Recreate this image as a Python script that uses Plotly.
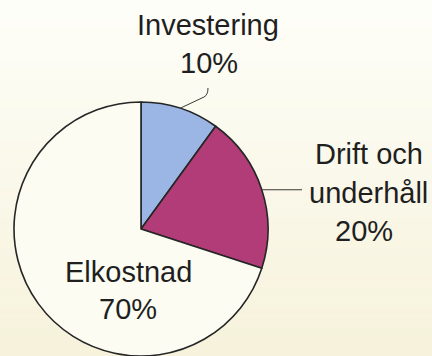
import math
import plotly.graph_objects as go

# Cost breakdown
categories = ["Investering", "Drift och underhåll", "Elkostnad"]
shares = [10, 20, 70]
label_lines = [["Investering", "10%"], ["Drift och", "underhåll", "20%"], ["Elkostnad", "70%"]]
slice_colors = ["#9bb6e4", "#b23c77", "#fcfcf3"]

W, H = 432, 356
CX, CY, R = 141, 229, 127  # pie centre and radius in pixels

def fx(px):
    return px / W

def fy(py):
    return 1 - py / H

fig = go.Figure()

fig.add_trace(go.Pie(
    labels=categories,
    values=shares,
    sort=False,
    direction="clockwise",
    rotation=0,
    textinfo="none",
    hoverinfo="label+percent",
    marker=dict(colors=slice_colors, line=dict(color="#262626", width=1.6)),
    domain=dict(x=[fx(CX - R), fx(CX + R)], y=[fy(CY + R), fy(CY - R)]),
))

# Soft cream gradient background built from horizontal bands
shapes = []
top = (254, 254, 249)
bottom = (246, 242, 219)
n_bands = 36
for i in range(n_bands):
    t = i / (n_bands - 1)
    c = tuple(round(top[k] + (bottom[k] - top[k]) * t) for k in range(3))
    shapes.append(dict(
        type="rect", xref="paper", yref="paper", layer="below",
        x0=0, x1=1, y0=1 - (i + 1) / n_bands, y1=1 - i / n_bands,
        fillcolor=f"rgb{c}", line=dict(width=0),
    ))

# Leader lines start at the mid-angle of each labelled slice
total = sum(shares)
mids = []
acc = 0
for v in shares:
    mids.append((acc + v / 2) / total * 2 * math.pi)
    acc += v

def edge_point(theta):
    return CX + R * math.sin(theta), CY - R * math.cos(theta)

ix, iy = edge_point(mids[0])
shapes.append(dict(
    type="path", xref="paper", yref="paper", layer="above",
    path=f"M {fx(ix)},{fy(iy)} L {fx(204)},{fy(97)} Q {fx(208)},{fy(95)} {fx(208)},{fy(88)}",
    line=dict(color="#3a3a3a", width=1),
))
dx, dy = edge_point(mids[1])
shapes.append(dict(
    type="line", xref="paper", yref="paper", layer="above",
    x0=fx(dx), y0=fy(dy), x1=fx(302), y1=fy(dy),
    line=dict(color="#3a3a3a", width=1),
))

# Label text, one annotation per line
font = dict(family="Liberation Sans, Arial, sans-serif", size=29, color="#1f1f1f")
label_pos = [
    [(208, 25), (209, 63)],
    [(369, 154), (368, 193), (364, 231)],
    [(128, 272), (128, 309)],
]
annotations = []
for lines, pos in zip(label_lines, label_pos):
    for text, (x, y) in zip(lines, pos):
        annotations.append(dict(
            x=fx(x), y=fy(y), xref="paper", yref="paper",
            text=text, showarrow=False, font=font,
            xanchor="center", yanchor="middle",
        ))

fig.update_layout(
    width=W, height=H,
    margin=dict(l=0, r=0, t=0, b=0),
    paper_bgcolor="#fbfaef",
    plot_bgcolor="rgba(0,0,0,0)",
    showlegend=False,
    shapes=shapes,
    annotations=annotations,
)

fig.write_html("out.html")
